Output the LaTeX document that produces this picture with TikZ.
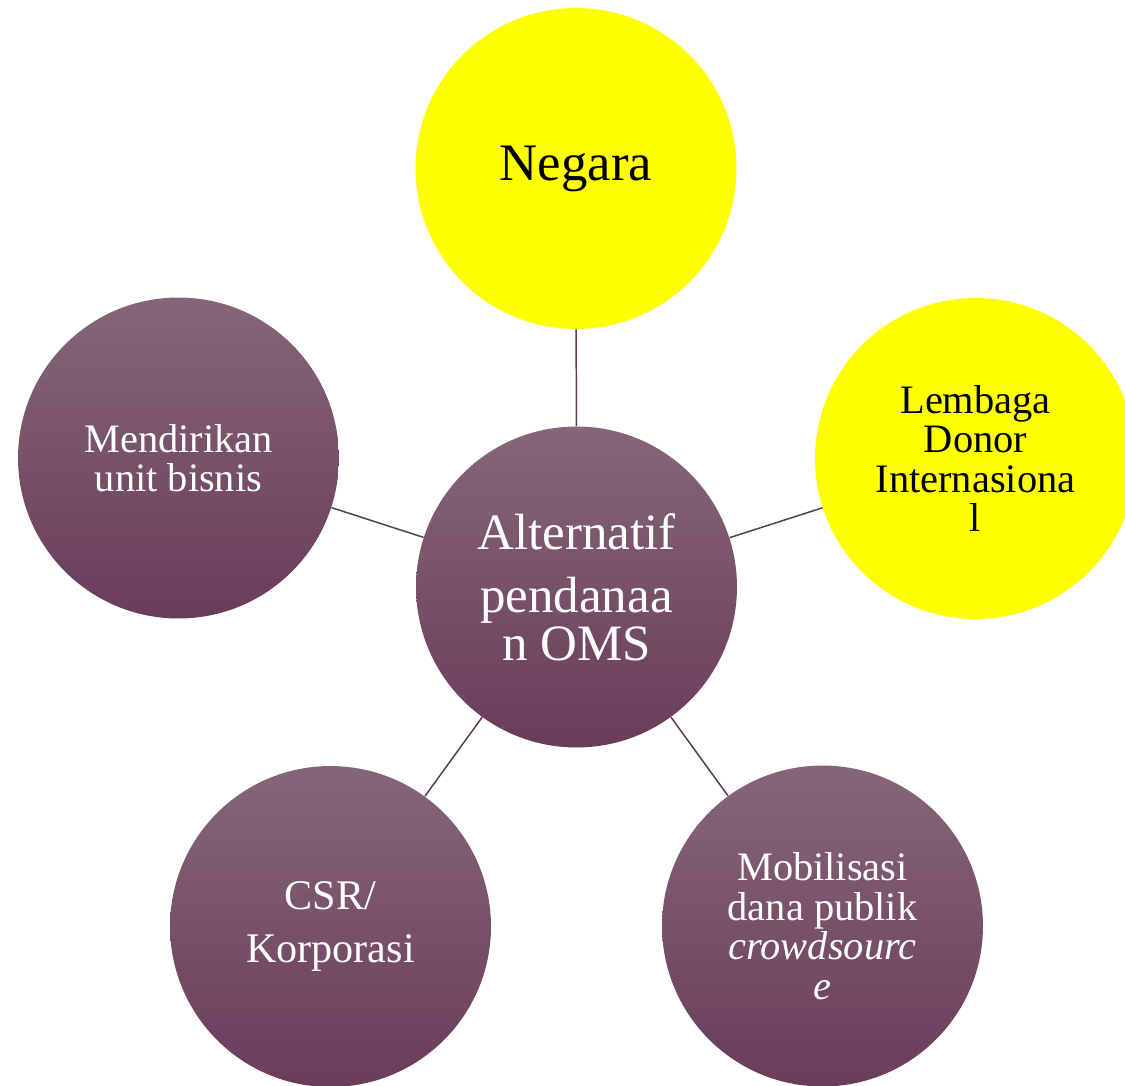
\documentclass[tikz,border=0pt]{standalone}
\usepackage{fontspec}
\setmainfont{Liberation Serif}
\usetikzlibrary{positioning}

\definecolor{plumtop}{HTML}{856678}
\definecolor{plumbottom}{HTML}{6A3C5A}
\definecolor{plumline}{HTML}{5B3B52}
\definecolor{brightyellow}{RGB}{255,255,0}

\begin{document}
\begin{tikzpicture}[x=0.02cm, y=-0.02cm]
    \tikzset{
      plumnode/.style={circle,inner sep=0pt,minimum size=6.42cm,top color=plumtop,bottom color=plumbottom,text=white,align=center},
      yellownode/.style={circle,inner sep=0pt,minimum size=6.42cm,fill=brightyellow,text=black,align=center},
      link/.style={draw=plumline,line width=0.85pt}
    }
    \useasboundingbox (0,0) rectangle (1125,1085);
    \clip (0,0) rectangle (1125,1085);

    \node[plumnode,font=\fontsize{29}{27}\selectfont](alternatif) at (576.5,587){Alternatif\\[9pt]pendanaa\\n OMS};
    \node[yellownode,font=\fontsize{30}{30}\selectfont](negara) at (576,168.5){Negara};
    \node[yellownode,font=\fontsize{23}{22.5}\selectfont](lembaga) at (975.5,458.5){Lembaga\\Donor\\Internasiona\\l};
    \node[plumnode,font=\fontsize{23}{22.5}\selectfont](bisnis) at (178.5,458){Mendirikan\\unit bisnis};
    \node[plumnode,font=\fontsize{24}{30}\selectfont](csr) at (330.5,926.5){CSR/\\Korporasi};
    \node[plumnode,font=\fontsize{23}{22.5}\selectfont](mobilisasi) at (822.5,926){Mobilisasi\\dana publik\\\textit{crowdsourc}\\\textit{e}};

    \draw[link](alternatif) -- (negara);
    \draw[link](alternatif) -- (lembaga);
    \draw[link](alternatif) -- (mobilisasi);
    \draw[link](alternatif) -- (csr);
    \draw[link](alternatif) -- (bisnis);
\end{tikzpicture}
\end{document}
